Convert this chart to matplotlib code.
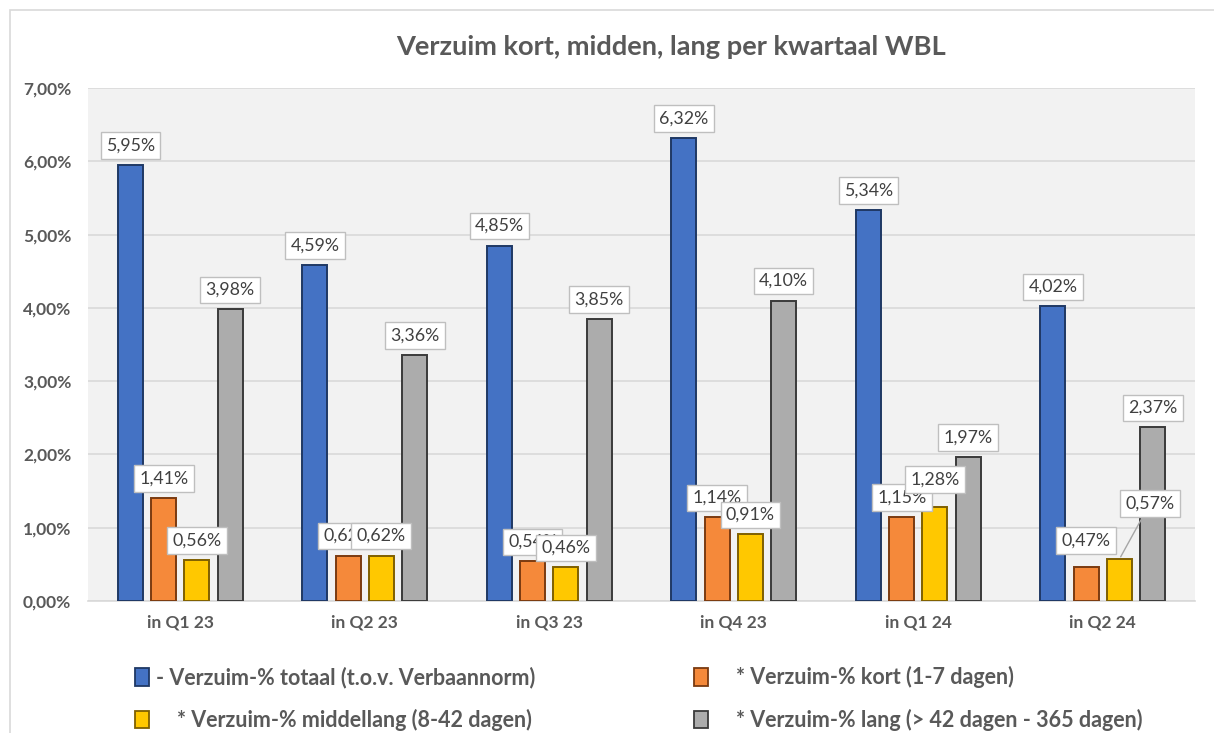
import numpy as np
import matplotlib
matplotlib.use('Agg')
import matplotlib.pyplot as plt
from matplotlib.patches import Rectangle, Patch

plt.rcParams['font.family'] = ['Lato', 'DejaVu Sans']

# data
kwartalen = ['in Q1 23', 'in Q2 23', 'in Q3 23', 'in Q4 23', 'in Q1 24', 'in Q2 24']
totaal = [5.95, 4.59, 4.85, 6.32, 5.34, 4.02]
kort = [1.41, 0.62, 0.54, 1.14, 1.15, 0.47]
middellang = [0.56, 0.62, 0.46, 0.91, 1.28, 0.57]
lang = [3.98, 3.36, 3.85, 4.10, 1.97, 2.37]
series_namen = ['- Verzuim-% totaal (t.o.v. Verbaannorm)',
                '    * Verzuim-% kort (1-7 dagen)',
                '    * Verzuim-% middellang (8-42 dagen)',
                '    * Verzuim-% lang (> 42 dagen - 365 dagen)']

kleuren = ['#4472C4', '#F5893A', '#FFC800', '#ACACAC']
randen = ['#1F3864', '#7A3A10', '#7F6000', '#3A3A3A']
tekstkleur = '#595959'


def pct(v):
    return ('%.2f%%' % v).replace('.', ',')


def main():
    fig = plt.figure(figsize=(12.14, 7.33), dpi=100)
    # rand om de grafiek heen
    fig.patches.append(Rectangle((10 / 1214, -0.05), 1.2, 1 - 10 / 733 + 0.05,
                                 transform=fig.transFigure, fill=False,
                                 edgecolor='#D9D9D9', linewidth=1.2))
    ax = fig.add_axes([88 / 1214, 1 - 601 / 733, (1195 - 88) / 1214, (601 - 88) / 733])
    ax.set_facecolor('#F2F2F2')

    x = np.arange(len(kwartalen))
    breedte = 0.136
    stap = 0.18
    alle = [totaal, kort, middellang, lang]

    for i, waarden in enumerate(alle):
        ax.bar(x + (i - 1.5) * stap, waarden, breedte, color=kleuren[i],
               edgecolor=randen[i], linewidth=1.4, zorder=3)

    # labels, latere series liggen bovenop
    for i, waarden in enumerate(alle):
        for j, v in enumerate(waarden):
            xp = x[j] + (i - 1.5) * stap
            dx, dy = 0, 14
            pijl = None
            if i == 2 and j == 5:
                dx, dy = 22, 40
                pijl = dict(arrowstyle='-', color='#A6A6A6', lw=1)
            if i == 2 and j == 4:
                dy = 20
            if i == 1 and j == 5:
                dy = 19
            ax.annotate(pct(v), (xp, v), xytext=(dx, dy), textcoords='offset points',
                        ha='center', va='center', fontsize=12.8, color='#404040',
                        zorder=5, arrowprops=pijl,
                        bbox=dict(boxstyle='square,pad=0.3', fc='white', ec='#BFBFBF', lw=1))

    ax.set_ylim(0, 7)
    ax.set_xlim(-0.5, len(kwartalen) - 0.5)
    ax.set_yticks(np.arange(0, 7.01, 1))
    ax.set_yticklabels([pct(v) for v in np.arange(0, 7.01, 1)])
    ax.set_xticks(x)
    ax.set_xticklabels(kwartalen)
    ax.tick_params(length=0, labelsize=12.5, labelcolor=tekstkleur, pad=10)
    ax.tick_params(axis='y', pad=12)
    for lbl in ax.get_xticklabels() + ax.get_yticklabels():
        lbl.set_fontweight('bold')
    ax.grid(axis='y', color='#D9D9D9', linewidth=1.2, zorder=0)
    for s in ['left', 'right', 'top']:
        ax.spines[s].set_visible(False)
    ax.spines['bottom'].set_color('#D9D9D9')
    ax.spines['bottom'].set_linewidth(1.2)

    fig.text(671 / 1214, 1 - 47 / 733, 'Verzuim kort, midden, lang per kwartaal WBL',
             ha='center', va='center', fontsize=19.6, fontweight='bold', color=tekstkleur)

    handles = [Patch(facecolor=kleuren[i], edgecolor=randen[i], linewidth=1.3) for i in range(4)]
    # volgorde: kolom 1 = totaal, middellang; kolom 2 = kort, lang
    leg = fig.legend([handles[0], handles[2], handles[1], handles[3]],
                     [series_namen[0], series_namen[2], series_namen[1], series_namen[3]],
                     ncol=2, loc='upper left', bbox_to_anchor=(116 / 1214, 1 - 647 / 733),
                     frameon=False, handlelength=0.65, handleheight=0.85, handletextpad=0.3,
                     columnspacing=7.4, labelspacing=0.95,
                     prop={'size': 15.5, 'weight': 'bold'})
    for t in leg.get_texts():
        t.set_color(tekstkleur)

    plt.savefig('out.png', dpi=100)


if __name__ == '__main__':
    main()
